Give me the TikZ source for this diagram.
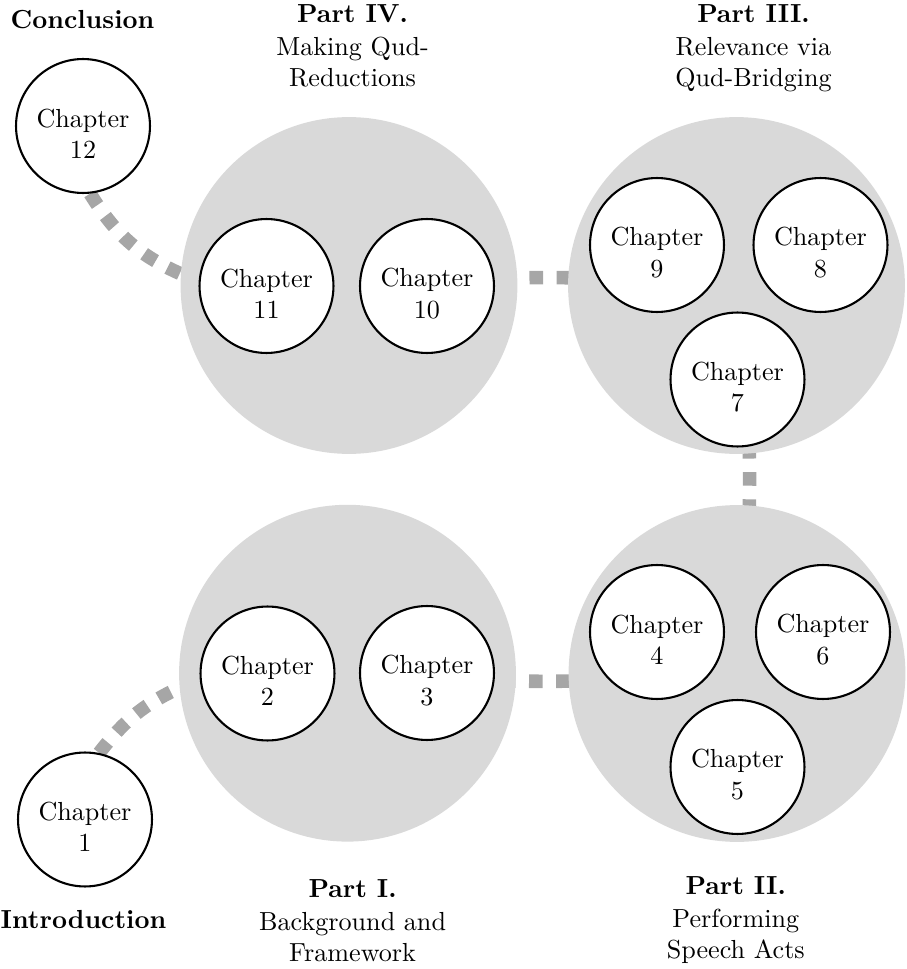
\documentclass[tikz,border=0pt]{standalone}
\usetikzlibrary{backgrounds}
\definecolor{partfill}{RGB}{217,217,217}
\definecolor{linkgray}{RGB}{166,166,166}
% two-line chapter label; the strut lifts the box so the first baseline sits on the centre
\newcommand\chp[1]{\rule{0pt}{12.8pt}Chapter\\#1}
\begin{document}
\begin{tikzpicture}[x=0.383pt,y=0.383pt,
  part/.style={circle, fill=partfill, minimum size=129pt, inner sep=0pt},
  chap/.style={circle, draw, line width=0.8pt, fill=white, minimum size=51.3pt,
               inner sep=0pt, align=center},
  link/.style={draw=linkgray, line width=5.2pt, dash pattern=on 5.2pt off 5.2pt},
  title/.style={align=center, inner sep=0pt, anchor=north},
  heading/.style={font=\bfseries, inner sep=0pt, anchor=base}]
\useasboundingbox (0,0) rectangle (907,969);

% parts
\node[part] (p4) at (349,683.5) {};
\node[part] (p3) at (736.5,683.5) {};
\node[part] (p1) at (347.5,295.8) {};
\node[part] (p2) at (737,295.5) {};

% chapters
\node[chap] (c12) at (83,843) {\chp{12}};
\node[chap] (c11) at (266.5,683) {\chp{11}};
\node[chap] (c10) at (427,683) {\chp{10}};
\node[chap] (c9) at (657,724) {\chp{9}};
\node[chap] (c8) at (820.5,724) {\chp{8}};
\node[chap] (c7) at (737.5,589.5) {\chp{7}};
\node[chap] (c1) at (85,149.5) {\chp{1}};
\node[chap] (c2) at (267.5,295.5) {\chp{2}};
\node[chap] (c3) at (427,296) {\chp{3}};
\node[chap] (c4) at (657,337) {\chp{4}};
\node[chap] (c6) at (823,337) {\chp{6}};
\node[chap] (c5) at (737.5,202) {\chp{5}};

% headings
\node[heading] (tconc) at (82.5,940.7) {Conclusion};
\node[heading] (tintro) at (83.5,40) {Introduction};
\node[title] (t4) at (352.6,965) {\textbf{Part IV.}\\[0.7pt]Making Qud-\\Reductions};
\node[title] (t3) at (753.5,965) {\textbf{Part III.}\\[0.7pt]Relevance via\\Qud-Bridging};
\node[title] (t1) at (352.6,90) {\textbf{Part I.}\\[0.7pt]Background and\\Framework};
\node[title] (t2) at (735.8,93) {\textbf{Part II.}\\[0.7pt]Performing\\Speech Acts};

% reading path
\begin{scope}[on background layer]
  \draw[link] (c1.78) to[out=52,in=205] (p1.185);
  \draw[link, dash phase=3.2pt] (p1.center) to[bend right=4] (p2.center);
  \draw[link, dash phase=1.1pt] (p3.center) to[bend left=6.5] (p2.center);
  \draw[link, dash phase=3.6pt] (p4.center) to[bend left=4] (p3.center);
  \draw[link] (c12.-84) to[out=-58,in=156] (p4.176);
\end{scope}
\end{tikzpicture}
\end{document}
